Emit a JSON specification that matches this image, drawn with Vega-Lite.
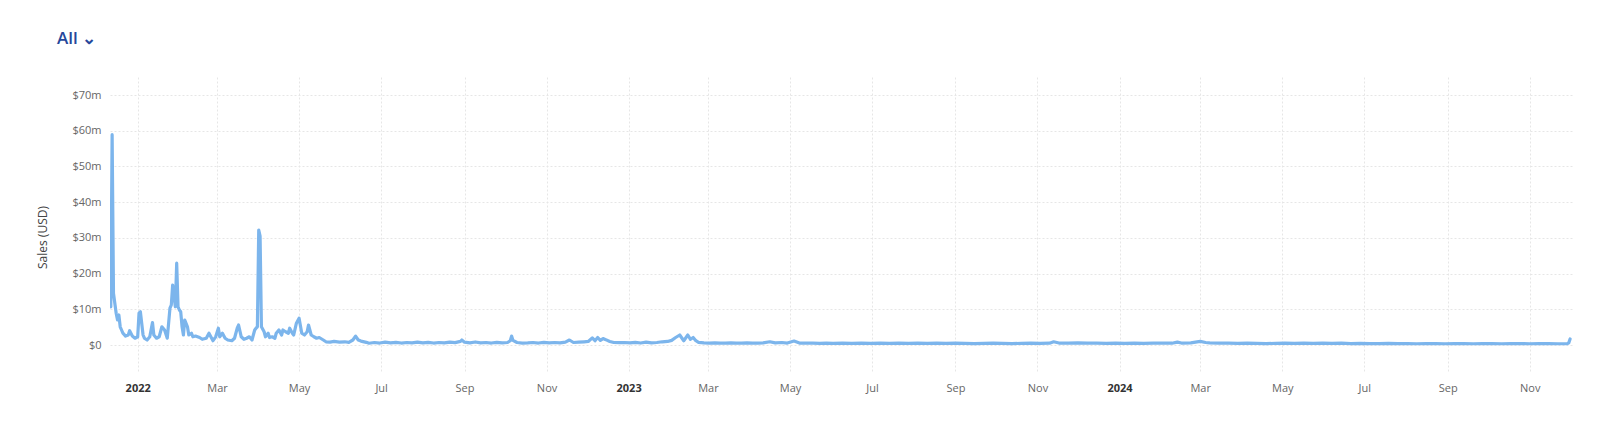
{
  "$schema": "https://vega.github.io/schema/vega-lite/v6.json",
  "width": 1462,
  "height": 296,
  "autosize": {"type": "none"},
  "padding": {"left": 110, "top": 77, "right": 28, "bottom": 55},
  "background": "#ffffff",
  "title": {
    "text": "All ⌄",
    "anchor": "start",
    "frame": "group",
    "dx": -53,
    "offset": 21,
    "baseline": "middle",
    "font": "Open Sans",
    "fontSize": 17,
    "fontWeight": 600,
    "color": "#26479b"
  },
  "data": {
    "values": [
      {"date": "2021-12-12", "sales": 10.7},
      {"date": "2021-12-13", "sales": 58.9},
      {"date": "2021-12-14", "sales": 14.5},
      {"date": "2021-12-16", "sales": 8.9},
      {"date": "2021-12-17", "sales": 7.0},
      {"date": "2021-12-18", "sales": 8.4},
      {"date": "2021-12-19", "sales": 5.1},
      {"date": "2021-12-20", "sales": 4.2},
      {"date": "2021-12-21", "sales": 3.3},
      {"date": "2021-12-23", "sales": 2.5},
      {"date": "2021-12-25", "sales": 2.8},
      {"date": "2021-12-26", "sales": 4.0},
      {"date": "2021-12-28", "sales": 2.5},
      {"date": "2021-12-30", "sales": 1.9},
      {"date": "2022-01-01", "sales": 2.3},
      {"date": "2022-01-02", "sales": 8.9},
      {"date": "2022-01-03", "sales": 9.3},
      {"date": "2022-01-05", "sales": 2.8},
      {"date": "2022-01-06", "sales": 1.9},
      {"date": "2022-01-08", "sales": 1.4},
      {"date": "2022-01-10", "sales": 2.3},
      {"date": "2022-01-12", "sales": 6.3},
      {"date": "2022-01-13", "sales": 2.8},
      {"date": "2022-01-15", "sales": 1.9},
      {"date": "2022-01-17", "sales": 2.3},
      {"date": "2022-01-19", "sales": 5.1},
      {"date": "2022-01-21", "sales": 4.2},
      {"date": "2022-01-23", "sales": 1.9},
      {"date": "2022-01-25", "sales": 10.3},
      {"date": "2022-01-26", "sales": 11.2},
      {"date": "2022-01-27", "sales": 16.8},
      {"date": "2022-01-29", "sales": 10.7},
      {"date": "2022-01-30", "sales": 22.9},
      {"date": "2022-01-31", "sales": 10.7},
      {"date": "2022-02-01", "sales": 9.8},
      {"date": "2022-02-02", "sales": 9.3},
      {"date": "2022-02-03", "sales": 5.1},
      {"date": "2022-02-04", "sales": 2.8},
      {"date": "2022-02-05", "sales": 7.0},
      {"date": "2022-02-07", "sales": 5.1},
      {"date": "2022-02-08", "sales": 2.8},
      {"date": "2022-02-10", "sales": 3.3},
      {"date": "2022-02-11", "sales": 2.3},
      {"date": "2022-02-13", "sales": 2.5},
      {"date": "2022-02-16", "sales": 2.1},
      {"date": "2022-02-18", "sales": 1.6},
      {"date": "2022-02-21", "sales": 1.9},
      {"date": "2022-02-23", "sales": 3.3},
      {"date": "2022-02-25", "sales": 1.9},
      {"date": "2022-02-26", "sales": 1.2},
      {"date": "2022-02-28", "sales": 2.3},
      {"date": "2022-03-02", "sales": 4.7},
      {"date": "2022-03-03", "sales": 2.3},
      {"date": "2022-03-05", "sales": 3.3},
      {"date": "2022-03-07", "sales": 1.9},
      {"date": "2022-03-09", "sales": 1.4},
      {"date": "2022-03-12", "sales": 1.2},
      {"date": "2022-03-14", "sales": 1.9},
      {"date": "2022-03-16", "sales": 4.7},
      {"date": "2022-03-17", "sales": 5.6},
      {"date": "2022-03-19", "sales": 2.3},
      {"date": "2022-03-21", "sales": 1.6},
      {"date": "2022-03-23", "sales": 1.9},
      {"date": "2022-03-25", "sales": 2.3},
      {"date": "2022-03-27", "sales": 1.4},
      {"date": "2022-03-29", "sales": 4.2},
      {"date": "2022-03-30", "sales": 4.7},
      {"date": "2022-03-31", "sales": 5.1},
      {"date": "2022-04-01", "sales": 32.2},
      {"date": "2022-04-02", "sales": 30.5},
      {"date": "2022-04-03", "sales": 5.1},
      {"date": "2022-04-05", "sales": 3.7},
      {"date": "2022-04-06", "sales": 2.3},
      {"date": "2022-04-08", "sales": 3.3},
      {"date": "2022-04-09", "sales": 2.1},
      {"date": "2022-04-11", "sales": 2.3},
      {"date": "2022-04-13", "sales": 1.9},
      {"date": "2022-04-14", "sales": 3.3},
      {"date": "2022-04-16", "sales": 4.2},
      {"date": "2022-04-18", "sales": 2.8},
      {"date": "2022-04-19", "sales": 4.2},
      {"date": "2022-04-21", "sales": 3.7},
      {"date": "2022-04-23", "sales": 3.3},
      {"date": "2022-04-24", "sales": 4.7},
      {"date": "2022-04-26", "sales": 3.3},
      {"date": "2022-04-27", "sales": 2.8},
      {"date": "2022-04-29", "sales": 6.1},
      {"date": "2022-05-01", "sales": 7.5},
      {"date": "2022-05-03", "sales": 3.3},
      {"date": "2022-05-05", "sales": 2.8},
      {"date": "2022-05-07", "sales": 3.7},
      {"date": "2022-05-08", "sales": 5.6},
      {"date": "2022-05-10", "sales": 2.8},
      {"date": "2022-05-12", "sales": 2.3},
      {"date": "2022-05-14", "sales": 1.9},
      {"date": "2022-05-16", "sales": 2.1},
      {"date": "2022-05-19", "sales": 1.4},
      {"date": "2022-05-21", "sales": 0.9},
      {"date": "2022-05-24", "sales": 0.8},
      {"date": "2022-05-27", "sales": 1.0},
      {"date": "2022-05-31", "sales": 0.8},
      {"date": "2022-06-04", "sales": 0.9},
      {"date": "2022-06-07", "sales": 0.75},
      {"date": "2022-06-10", "sales": 1.4},
      {"date": "2022-06-12", "sales": 2.5},
      {"date": "2022-06-14", "sales": 1.4},
      {"date": "2022-06-16", "sales": 1.1},
      {"date": "2022-06-20", "sales": 0.75},
      {"date": "2022-06-22", "sales": 0.5},
      {"date": "2022-06-26", "sales": 0.7},
      {"date": "2022-06-30", "sales": 0.55},
      {"date": "2022-07-04", "sales": 0.8},
      {"date": "2022-07-08", "sales": 0.6},
      {"date": "2022-07-12", "sales": 0.75},
      {"date": "2022-07-16", "sales": 0.55},
      {"date": "2022-07-20", "sales": 0.7},
      {"date": "2022-07-24", "sales": 0.6},
      {"date": "2022-07-28", "sales": 0.8},
      {"date": "2022-08-01", "sales": 0.6},
      {"date": "2022-08-05", "sales": 0.75},
      {"date": "2022-08-09", "sales": 0.55},
      {"date": "2022-08-13", "sales": 0.7},
      {"date": "2022-08-17", "sales": 0.6},
      {"date": "2022-08-21", "sales": 0.8},
      {"date": "2022-08-25", "sales": 0.65},
      {"date": "2022-08-29", "sales": 1.0},
      {"date": "2022-08-30", "sales": 1.4},
      {"date": "2022-09-01", "sales": 0.8},
      {"date": "2022-09-05", "sales": 0.6},
      {"date": "2022-09-09", "sales": 0.85},
      {"date": "2022-09-13", "sales": 0.6},
      {"date": "2022-09-17", "sales": 0.7},
      {"date": "2022-09-21", "sales": 0.55},
      {"date": "2022-09-25", "sales": 0.75},
      {"date": "2022-09-29", "sales": 0.6},
      {"date": "2022-10-03", "sales": 0.7},
      {"date": "2022-10-05", "sales": 1.2},
      {"date": "2022-10-06", "sales": 2.5},
      {"date": "2022-10-07", "sales": 1.3},
      {"date": "2022-10-10", "sales": 0.7},
      {"date": "2022-10-14", "sales": 0.55},
      {"date": "2022-10-18", "sales": 0.6},
      {"date": "2022-10-22", "sales": 0.7},
      {"date": "2022-10-26", "sales": 0.55},
      {"date": "2022-10-30", "sales": 0.75},
      {"date": "2022-11-03", "sales": 0.6},
      {"date": "2022-11-07", "sales": 0.7},
      {"date": "2022-11-11", "sales": 0.6},
      {"date": "2022-11-15", "sales": 0.8},
      {"date": "2022-11-18", "sales": 1.4},
      {"date": "2022-11-21", "sales": 0.7},
      {"date": "2022-11-25", "sales": 0.8},
      {"date": "2022-11-29", "sales": 0.9},
      {"date": "2022-12-02", "sales": 1.0},
      {"date": "2022-12-05", "sales": 2.0},
      {"date": "2022-12-07", "sales": 1.2},
      {"date": "2022-12-09", "sales": 2.1},
      {"date": "2022-12-11", "sales": 1.3},
      {"date": "2022-12-13", "sales": 1.8},
      {"date": "2022-12-15", "sales": 1.5},
      {"date": "2022-12-18", "sales": 1.0},
      {"date": "2022-12-21", "sales": 0.7},
      {"date": "2022-12-25", "sales": 0.65},
      {"date": "2022-12-29", "sales": 0.7},
      {"date": "2023-01-02", "sales": 0.6},
      {"date": "2023-01-06", "sales": 0.75},
      {"date": "2023-01-10", "sales": 0.55},
      {"date": "2023-01-14", "sales": 0.8},
      {"date": "2023-01-18", "sales": 0.6},
      {"date": "2023-01-22", "sales": 0.7},
      {"date": "2023-01-26", "sales": 0.9},
      {"date": "2023-01-30", "sales": 1.0},
      {"date": "2023-02-02", "sales": 1.3},
      {"date": "2023-02-05", "sales": 2.1},
      {"date": "2023-02-08", "sales": 2.8},
      {"date": "2023-02-11", "sales": 1.2},
      {"date": "2023-02-14", "sales": 2.8},
      {"date": "2023-02-16", "sales": 1.6},
      {"date": "2023-02-18", "sales": 2.1},
      {"date": "2023-02-20", "sales": 1.2},
      {"date": "2023-02-22", "sales": 0.75},
      {"date": "2023-02-26", "sales": 0.6},
      {"date": "2023-03-02", "sales": 0.55},
      {"date": "2023-03-06", "sales": 0.6},
      {"date": "2023-03-10", "sales": 0.5},
      {"date": "2023-03-14", "sales": 0.55},
      {"date": "2023-03-18", "sales": 0.6},
      {"date": "2023-03-22", "sales": 0.5},
      {"date": "2023-03-26", "sales": 0.55},
      {"date": "2023-03-30", "sales": 0.6},
      {"date": "2023-04-03", "sales": 0.5},
      {"date": "2023-04-07", "sales": 0.55},
      {"date": "2023-04-11", "sales": 0.6},
      {"date": "2023-04-16", "sales": 0.9},
      {"date": "2023-04-20", "sales": 0.6},
      {"date": "2023-04-25", "sales": 0.7},
      {"date": "2023-04-29", "sales": 0.55},
      {"date": "2023-05-04", "sales": 1.1},
      {"date": "2023-05-08", "sales": 0.55},
      {"date": "2023-05-13", "sales": 0.5},
      {"date": "2023-05-18", "sales": 0.55},
      {"date": "2023-05-23", "sales": 0.45},
      {"date": "2023-05-28", "sales": 0.5},
      {"date": "2023-06-02", "sales": 0.45},
      {"date": "2023-06-09", "sales": 0.5},
      {"date": "2023-06-16", "sales": 0.45},
      {"date": "2023-06-23", "sales": 0.5},
      {"date": "2023-06-30", "sales": 0.45},
      {"date": "2023-07-07", "sales": 0.5},
      {"date": "2023-07-14", "sales": 0.45},
      {"date": "2023-07-21", "sales": 0.5},
      {"date": "2023-07-28", "sales": 0.45},
      {"date": "2023-08-04", "sales": 0.5},
      {"date": "2023-08-11", "sales": 0.45},
      {"date": "2023-08-18", "sales": 0.5},
      {"date": "2023-08-25", "sales": 0.45},
      {"date": "2023-09-01", "sales": 0.5},
      {"date": "2023-09-08", "sales": 0.45},
      {"date": "2023-09-15", "sales": 0.4},
      {"date": "2023-09-22", "sales": 0.45},
      {"date": "2023-09-29", "sales": 0.5},
      {"date": "2023-10-06", "sales": 0.45},
      {"date": "2023-10-13", "sales": 0.4},
      {"date": "2023-10-20", "sales": 0.45},
      {"date": "2023-10-27", "sales": 0.5},
      {"date": "2023-11-03", "sales": 0.45},
      {"date": "2023-11-10", "sales": 0.5},
      {"date": "2023-11-13", "sales": 0.9},
      {"date": "2023-11-17", "sales": 0.55},
      {"date": "2023-11-24", "sales": 0.5},
      {"date": "2023-12-01", "sales": 0.6},
      {"date": "2023-12-08", "sales": 0.5},
      {"date": "2023-12-15", "sales": 0.55},
      {"date": "2023-12-22", "sales": 0.45},
      {"date": "2023-12-29", "sales": 0.5},
      {"date": "2024-01-05", "sales": 0.45},
      {"date": "2024-01-12", "sales": 0.5},
      {"date": "2024-01-19", "sales": 0.45},
      {"date": "2024-01-26", "sales": 0.5},
      {"date": "2024-02-02", "sales": 0.55},
      {"date": "2024-02-09", "sales": 0.5},
      {"date": "2024-02-13", "sales": 0.8},
      {"date": "2024-02-16", "sales": 0.55},
      {"date": "2024-02-23", "sales": 0.6},
      {"date": "2024-03-01", "sales": 1.0},
      {"date": "2024-03-05", "sales": 0.7},
      {"date": "2024-03-08", "sales": 0.6},
      {"date": "2024-03-15", "sales": 0.55},
      {"date": "2024-03-22", "sales": 0.5},
      {"date": "2024-03-29", "sales": 0.45},
      {"date": "2024-04-05", "sales": 0.5},
      {"date": "2024-04-12", "sales": 0.45},
      {"date": "2024-04-19", "sales": 0.4},
      {"date": "2024-04-26", "sales": 0.45},
      {"date": "2024-05-03", "sales": 0.5},
      {"date": "2024-05-10", "sales": 0.45},
      {"date": "2024-05-17", "sales": 0.55},
      {"date": "2024-05-24", "sales": 0.45},
      {"date": "2024-05-31", "sales": 0.5},
      {"date": "2024-06-07", "sales": 0.45},
      {"date": "2024-06-14", "sales": 0.5},
      {"date": "2024-06-21", "sales": 0.4},
      {"date": "2024-06-28", "sales": 0.45},
      {"date": "2024-07-05", "sales": 0.4},
      {"date": "2024-07-12", "sales": 0.4},
      {"date": "2024-07-19", "sales": 0.45},
      {"date": "2024-07-26", "sales": 0.4},
      {"date": "2024-08-02", "sales": 0.4},
      {"date": "2024-08-09", "sales": 0.35},
      {"date": "2024-08-16", "sales": 0.4},
      {"date": "2024-08-23", "sales": 0.4},
      {"date": "2024-08-30", "sales": 0.35},
      {"date": "2024-09-06", "sales": 0.4},
      {"date": "2024-09-13", "sales": 0.4},
      {"date": "2024-09-20", "sales": 0.35},
      {"date": "2024-09-27", "sales": 0.4},
      {"date": "2024-10-04", "sales": 0.4},
      {"date": "2024-10-11", "sales": 0.35},
      {"date": "2024-10-18", "sales": 0.4},
      {"date": "2024-10-25", "sales": 0.4},
      {"date": "2024-11-01", "sales": 0.35},
      {"date": "2024-11-08", "sales": 0.4},
      {"date": "2024-11-15", "sales": 0.4},
      {"date": "2024-11-22", "sales": 0.35},
      {"date": "2024-11-29", "sales": 0.4},
      {"date": "2024-11-30", "sales": 0.6},
      {"date": "2024-12-01", "sales": 1.7}
    ]
  },
  "mark": {
    "type": "line",
    "color": "#7cb5ec",
    "strokeWidth": 3.2,
    "strokeJoin": "round",
    "strokeCap": "round",
    "clip": true
  },
  "encoding": {
    "x": {
      "field": "date",
      "type": "temporal",
      "scale": {
        "type": "utc",
        "domain": [
          {"year": 2021, "month": 12, "date": 11, "hours": 10, "utc": true},
          {"year": 2024, "month": 12, "date": 2, "hours": 10, "utc": true}
        ]
      },
      "axis": {
        "title": null,
        "tickCount": {"interval": "month", "step": 2},
        "labelExpr": "utcmonth(datum.value) == 0 ? utcFormat(datum.value, '%Y') : utcFormat(datum.value, '%b')",
        "labelFontWeight": {"condition": {"test": "utcmonth(datum.value) == 0", "value": "bold"}, "value": "normal"},
        "labelColor": {"condition": {"test": "utcmonth(datum.value) == 0", "value": "#333333"}, "value": "#666666"},
        "labelPadding": 9,
        "labelOverlap": false,
        "labelFlush": false
      }
    },
    "y": {
      "field": "sales",
      "type": "quantitative",
      "scale": {"domain": [-7.84, 75.04], "nice": false, "zero": false},
      "axis": {
        "title": "Sales (USD)",
        "values": [0, 10, 20, 30, 40, 50, 60, 70],
        "labelExpr": "datum.value == 0 ? '$0' : '$' + datum.value + 'm'",
        "labelPadding": 9,
        "titleX": -68,
        "titleY": 160,
        "titleAngle": -90,
        "titleAlign": "center",
        "titleBaseline": "middle",
        "titleFontSize": 12,
        "titleFontWeight": "normal",
        "titleColor": "#444444"
      }
    }
  },
  "config": {
    "font": "Open Sans",
    "view": {"stroke": null},
    "axis": {
      "domain": false,
      "ticks": false,
      "grid": true,
      "gridColor": "#e6e6e6",
      "gridDash": [2, 2],
      "gridWidth": 1,
      "labelFont": "Open Sans",
      "labelFontSize": 11,
      "labelColor": "#666666",
      "titleFont": "Open Sans"
    }
  }
}
